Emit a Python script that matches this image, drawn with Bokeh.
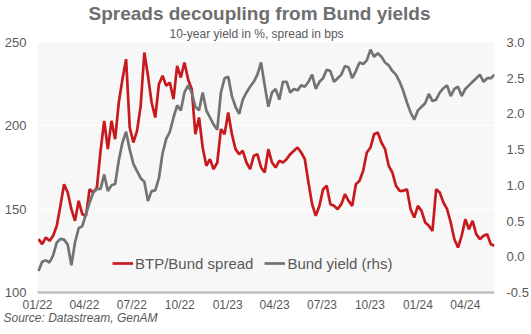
import pandas as pd
from bokeh.plotting import figure
from bokeh.models import (Range1d, LinearAxis, FixedTicker, DatetimeTickFormatter,
                          NumeralTickFormatter, Title, Legend, LegendItem, ColumnDataSource)
from bokeh.embed import file_html
from bokeh.resources import INLINE

# ---- data (weekly readings, from 3 Jan 2022) ----
start_date = "2022-01-03"
n_weeks = 126
spread_bps = [132, 129, 133, 131, 134, 140, 152, 165, 160, 150,
              143, 155, 147, 146, 162, 160, 163, 185, 203, 186,
              203, 192, 214, 228, 240, 199, 190, 197, 212, 244,
              230, 214, 205, 225, 230, 224, 226, 216, 236, 229,
              238, 228, 222, 195, 205, 187, 176, 180, 174, 178,
              198, 195, 208, 195, 186, 183, 185, 178, 174, 182,
              183, 175, 172, 186, 178, 175, 179, 178, 180, 183,
              185, 187, 184, 180, 166, 153, 146, 152, 162, 164,
              153, 152, 150, 153, 159, 155, 152, 165, 167, 173,
              184, 187, 195, 196, 190, 186, 176, 172, 164, 161,
              161, 162, 150, 145, 152, 149, 142, 140, 137, 162,
              160, 154, 150, 142, 132, 127, 134, 144, 138, 143,
              135, 132, 134, 135, 129, 128]
bund_yield = [-0.20, -0.07, -0.05, -0.08, 0.02, 0.20, 0.25, 0.24, 0.17, -0.12,
              0.20, 0.40, 0.43, 0.60, 0.76, 0.90, 0.95, 0.95, 1.15, 0.92,
              1.00, 1.02, 1.35, 1.60, 1.75, 1.50, 1.30, 1.20, 1.10, 1.05,
              0.78, 0.92, 0.93, 1.10, 1.45, 1.65, 1.75, 1.95, 2.12, 2.05,
              2.30, 2.40, 2.30, 2.10, 2.05, 2.30, 2.05, 1.95, 1.85, 1.78,
              2.30, 2.50, 2.52, 2.25, 2.10, 2.00, 2.20, 2.30, 2.38, 2.45,
              2.55, 2.72, 2.40, 2.10, 2.30, 2.35, 2.20, 2.45, 2.45, 2.30,
              2.35, 2.33, 2.40, 2.38, 2.45, 2.55, 2.35, 2.45, 2.50, 2.62,
              2.60, 2.45, 2.50, 2.55, 2.67, 2.65, 2.50, 2.60, 2.72, 2.70,
              2.75, 2.90, 2.80, 2.85, 2.80, 2.72, 2.68, 2.60, 2.55, 2.45,
              2.32, 2.16, 2.02, 1.92, 2.05, 2.10, 2.15, 2.28, 2.18, 2.20,
              2.30, 2.36, 2.40, 2.25, 2.35, 2.38, 2.25, 2.35, 2.40, 2.45,
              2.50, 2.55, 2.45, 2.50, 2.50, 2.55]
quarter_ticks = ["2022-01-01", "2022-04-01", "2022-07-01", "2022-10-01",
                 "2023-01-01", "2023-04-01", "2023-07-01", "2023-10-01",
                 "2024-01-01", "2024-04-01"]
left_ticks = [100, 150, 200, 250]
right_ticks = [-0.5, 0.0, 0.5, 1.0, 1.5, 2.0, 2.5, 3.0]

title_text = "Spreads decoupling from Bund yields"
subtitle_text = "10-year yield in %, spread in bps"
source_text = "Source: Datastream, GenAM"

dates = pd.date_range(start_date, periods=n_weeks, freq="7D")
src = ColumnDataSource(dict(date=dates, spread=spread_bps, yld=bund_yield))

FONT = "Liberation Sans"
RED = "#c8191e"
GREY = "#737373"
TXT = "#595959"

x_start = pd.Timestamp("2022-01-01")
x_end = pd.Timestamp("2024-05-27")

p = figure(width=531, height=334, x_axis_type="datetime",
           x_range=Range1d(x_start, x_end), y_range=Range1d(100, 250),
           output_backend="svg", toolbar_location=None, title=None,
           min_border_left=37, min_border_right=36, min_border_top=39, min_border_bottom=42,
           background_fill_color="#f7f7f7", border_fill_color="white",
           outline_line_color=None)

# left axis
la = p.left[0]
la.ticker = FixedTicker(ticks=left_ticks)
la.axis_line_color = None
la.major_tick_line_color = None
la.minor_tick_line_color = None
la.major_tick_out = 0
la.major_label_standoff = 11
la.major_label_text_font = FONT
la.major_label_text_font_size = "13px"
la.major_label_text_color = TXT

# bottom axis
xa = p.below[0]
xa.ticker = FixedTicker(ticks=[pd.Timestamp(t).value // 10**6 for t in quarter_ticks])
fmt = "%m/%y"
xa.formatter = DatetimeTickFormatter(days=fmt, months=fmt, years=fmt, hours=fmt,
                                     minutes=fmt, seconds=fmt, milliseconds=fmt,
                                     microseconds=fmt, hourmin=fmt, minsec=fmt)
xa.axis_line_color = "#bfbfbf"
xa.axis_line_width = 2.5
xa.major_tick_line_color = None
xa.minor_tick_line_color = None
xa.major_tick_out = 0
xa.major_label_standoff = 5
xa.major_label_text_font = FONT
xa.major_label_text_font_size = "12px"
xa.major_label_text_color = TXT

# right axis
p.extra_y_ranges = {"rhs": Range1d(-0.5, 3.0)}
ra = LinearAxis(y_range_name="rhs", ticker=FixedTicker(ticks=right_ticks),
                formatter=NumeralTickFormatter(format="0.0"))
ra.axis_line_color = None
ra.major_tick_line_color = None
ra.minor_tick_line_color = None
ra.major_tick_out = 0
ra.major_label_standoff = 12
ra.major_label_text_font = FONT
ra.major_label_text_font_size = "13px"
ra.major_label_text_color = TXT
p.add_layout(ra, "right")

p.xgrid.grid_line_color = None
p.ygrid.ticker = FixedTicker(ticks=left_ticks)
p.ygrid.grid_line_color = "white"
p.ygrid.grid_line_width = 1

r1 = p.line("date", "spread", source=src, line_color=RED, line_width=2.7)
r2 = p.line("date", "yld", source=src, line_color=GREY, line_width=2.7, y_range_name="rhs")

legend = Legend(items=[LegendItem(label="BTP/Bund spread", renderers=[r1]),
                       LegendItem(label="Bund yield (rhs)", renderers=[r2])],
                orientation="horizontal", location=(75, 19),
                glyph_width=21, glyph_height=20, label_standoff=2, spacing=11,
                padding=0, margin=0, border_line_color=None, background_fill_alpha=0,
                label_text_font=FONT, label_text_font_size="15px", label_text_color=TXT)
p.add_layout(legend)

# titles: first added sits closest to the plot
p.add_layout(Title(text=subtitle_text, align="left", offset=132, standoff=3,
                   text_font=FONT, text_font_size="12px", text_font_style="normal",
                   text_color=TXT), "above")
p.add_layout(Title(text=title_text, align="left", offset=51, standoff=0,
                   text_font=FONT, text_font_size="19px", text_font_style="bold",
                   text_color="#6e6e6e"), "above")
p.add_layout(Title(text=source_text, align="left", offset=-34, standoff=-8,
                   vertical_align="top",
                   text_font=FONT, text_font_size="12px", text_font_style="italic",
                   text_color=TXT), "below")

open("out.html", "w").write(file_html(p, INLINE))
